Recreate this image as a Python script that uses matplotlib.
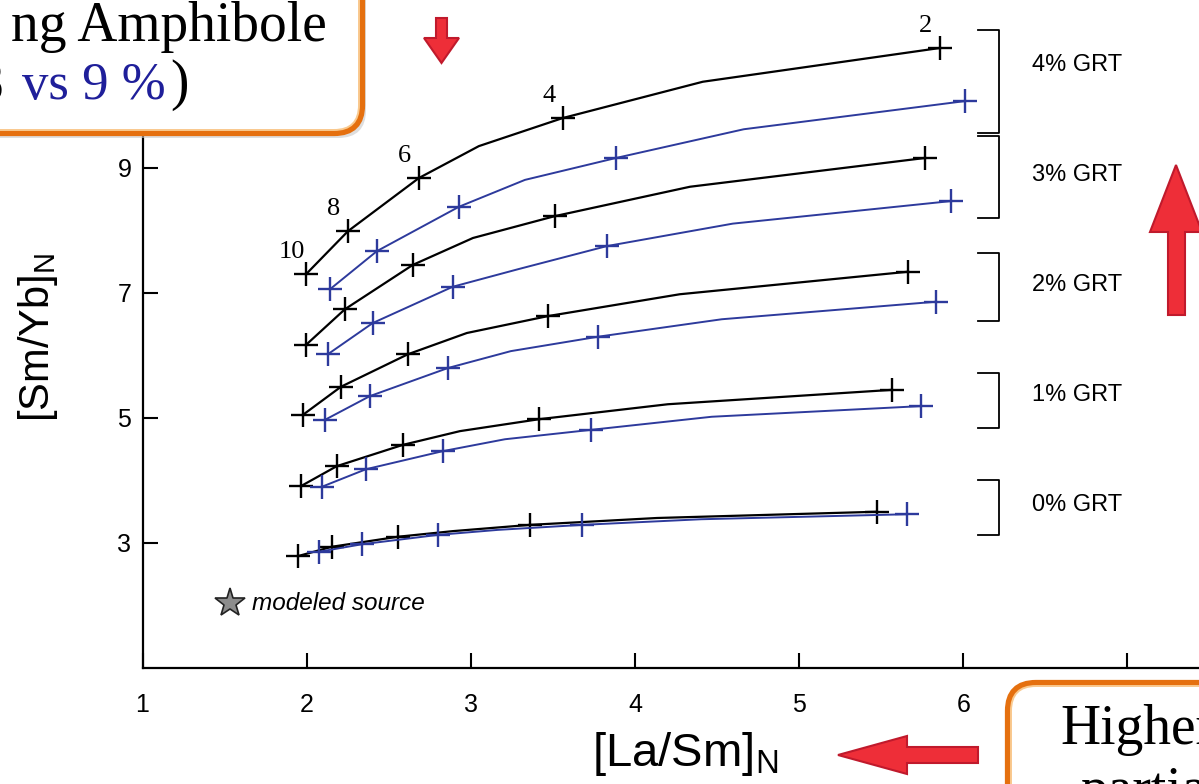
import matplotlib.pyplot as plt
from matplotlib.patches import FancyBboxPatch, Polygon

plt.rcParams["font.family"] = ["Liberation Sans", "DejaVu Sans"]
plt.rcParams["mathtext.default"] = "regular"

# melt fraction (%) at each vertex of a curve; markers sit on the even ones
melt = [10, 8, 6, 5, 4, 3, 2]
marked = [0, 1, 2, 4, 6]

# [La/Sm]N and [Sm/Yb]N, black = 8 % amphibole, blue = 9 % amphibole
x_g4_black = [1.996, 2.252, 2.684, 3.049, 3.561, 4.413, 5.857]
y_g4_black = [7.30, 7.99, 8.84, 9.35, 9.80, 10.38, 10.92]
x_g4_blue = [2.142, 2.428, 2.928, 3.330, 3.884, 4.663, 6.009]
y_g4_blue = [7.06, 7.67, 8.38, 8.81, 9.16, 9.62, 10.07]

x_g3_black = [1.996, 2.233, 2.647, 3.013, 3.512, 4.335, 5.766]
y_g3_black = [6.17, 6.74, 7.45, 7.88, 8.23, 8.70, 9.16]
x_g3_blue = [2.129, 2.403, 2.890, 3.287, 3.828, 4.596, 5.923]
y_g3_blue = [6.02, 6.52, 7.10, 7.38, 7.75, 8.11, 8.47]

x_g2_black = [1.977, 2.209, 2.617, 2.976, 3.469, 4.273, 5.662]
y_g2_black = [5.05, 5.50, 6.02, 6.36, 6.63, 6.98, 7.34]
x_g2_blue = [2.111, 2.385, 2.861, 3.244, 3.774, 4.529, 5.833]
y_g2_blue = [4.97, 5.35, 5.80, 6.07, 6.30, 6.58, 6.86]

x_g1_black = [1.965, 2.184, 2.586, 2.934, 3.414, 4.200, 5.564]
y_g1_black = [3.91, 4.23, 4.57, 4.79, 4.98, 5.22, 5.45]
x_g1_blue = [2.093, 2.361, 2.830, 3.208, 3.731, 4.468, 5.741]
y_g1_blue = [3.90, 4.18, 4.47, 4.66, 4.81, 5.02, 5.19]

x_g0_black = [1.947, 2.154, 2.556, 2.891, 3.360, 4.133, 5.473]
y_g0_black = [2.79, 2.94, 3.10, 3.19, 3.29, 3.40, 3.50]
x_g0_blue = [2.075, 2.337, 2.800, 3.165, 3.677, 4.402, 5.656]
y_g0_blue = [2.86, 2.98, 3.13, 3.21, 3.29, 3.38, 3.46]

# garnet groups: label, bracket top / bottom, label height
grt_labels = ["4% GRT", "3% GRT", "2% GRT", "1% GRT", "0% GRT"]
bracket_top = [11.21, 9.51, 7.64, 5.72, 4.01]
bracket_bottom = [9.56, 8.20, 6.55, 4.84, 3.13]
label_y = [10.65, 8.89, 7.13, 5.37, 3.61]

source_x, source_y = 1.536, 2.04

xticks = [1, 2, 3, 4, 5, 6, 7]
xtick_labels = ["1", "2", "3", "4", "5", "6", ""]
yticks = [3, 5, 7, 9]

BLUE = "#2d3a9c"
W, H = 1199, 784

fig = plt.figure(figsize=(W / 100, H / 100), dpi=100)
ax = fig.add_axes([142.5 / W, (H - 668) / H, 1067 / W, 687.5 / H])
ax.set_xlim(1, 7.5)
ax.set_ylim(1, 12)

curves = [
    (x_g4_black, y_g4_black, "black"),
    (x_g4_blue, y_g4_blue, BLUE),
    (x_g3_black, y_g3_black, "black"),
    (x_g3_blue, y_g3_blue, BLUE),
    (x_g2_black, y_g2_black, "black"),
    (x_g2_blue, y_g2_blue, BLUE),
    (x_g1_black, y_g1_black, "black"),
    (x_g1_blue, y_g1_blue, BLUE),
    (x_g0_black, y_g0_black, "black"),
    (x_g0_blue, y_g0_blue, BLUE),
]
for xs, ys, c in curves:
    lw = 1.6 if c == "black" else 1.4
    ax.plot(xs, ys, color=c, lw=lw, marker="+", ms=17, mew=1.7,
            markevery=marked, clip_on=False)

# melt fraction labels on the top curve
for i in marked:
    ax.annotate(str(melt[i]), (x_g4_black[i], y_g4_black[i]), xytext=(-14, 22),
                textcoords="offset pixels", ha="center", va="center",
                fontsize=19, family="Liberation Serif")

# brackets and garnet labels
for lab, top, bot, ly in zip(grt_labels, bracket_top, bracket_bottom, label_y):
    ax.plot([6.088, 6.216, 6.216, 6.088], [top, top, bot, bot], color="black",
            lw=1.3, clip_on=False)
    ax.text(6.42, ly, lab, fontsize=17, ha="left", va="center")

# modeled source
ax.plot(source_x, source_y, marker="*", ms=22, color="#8c8c8c",
        markeredgecolor="#222222", mew=1.2, clip_on=False)
ax.text(source_x + 0.13, source_y, "modeled source", fontsize=17.5,
        style="italic", ha="left", va="center")

ax.set_xticks(xticks)
ax.set_xticklabels(xtick_labels)
ax.set_yticks(yticks)
ax.tick_params(direction="in", length=11, width=1.5, labelsize=18)
ax.tick_params(axis="x", pad=18)
ax.tick_params(axis="y", pad=8)
for s in ["top", "right"]:
    ax.spines[s].set_visible(False)
for s in ["left", "bottom"]:
    ax.spines[s].set_linewidth(1.6)

fig.text(38 / W, 1 - 337 / H, "[Sm/Yb]$_N$", rotation=90, fontsize=30,
         ha="center", va="center")
fig.text(685 / W, 1 - 754 / H, "[La/Sm]$_N$", fontsize=34, ha="center", va="center")

# overlay in pixel coordinates for callout boxes and arrows
ov = fig.add_axes([0, 0, 1, 1], zorder=5)
ov.set_xlim(0, W)
ov.set_ylim(H, 0)
ov.axis("off")
ov.patch.set_alpha(0)


def callout(x0, y0, w, h):
    ov.add_patch(FancyBboxPatch((x0 + 4, y0 + 5), w, h,
                                boxstyle="round,pad=0,rounding_size=28",
                                fc="#c8c8c8", ec="none", alpha=0.6))
    ov.add_patch(FancyBboxPatch((x0, y0), w, h,
                                boxstyle="round,pad=0,rounding_size=28",
                                fc="white", ec="#e5700f", lw=4.5))
    ov.add_patch(FancyBboxPatch((x0 + 3, y0 + 3), w - 6, h - 6,
                                boxstyle="round,pad=0,rounding_size=25",
                                fc="none", ec="#f9c98e", lw=1.4))


callout(-40, -40, 402, 173)
callout(1008, 683, 300, 200)

serif = "Liberation Serif"
ov.text(327, 41, "ng Amphibole", fontsize=40, family=serif, ha="right", va="baseline")
ov.text(4, 99, "8", fontsize=40, family=serif, ha="right", va="baseline")
ov.text(22, 99, "vs 9 %", fontsize=38, family=serif, color="#1f1f9a",
        ha="left", va="baseline")
ov.text(170, 99, ")", fontsize=40, family=serif, ha="left", va="baseline")
ov.text(1060, 744, "Higher", fontsize=40, family=serif, ha="left", va="baseline")
ov.text(1080, 806, "partial", fontsize=40, family=serif, ha="left", va="baseline")

arrows = [
    [(436, 18), (447, 18), (447, 38), (459, 38), (441.5, 63), (424, 38), (436, 38)],
    [(1176, 165), (1202, 232), (1185, 232), (1185, 315), (1168, 315), (1168, 232),
     (1150, 232)],
    [(838, 755), (907, 736), (907, 747), (978, 747), (978, 763), (907, 763),
     (907, 774)],
]
for pts in arrows:
    ov.add_patch(Polygon(pts, closed=True, fc="#ee2e38", ec="#c01a2c", lw=1.5))

fig.savefig("out.png", dpi=100)
